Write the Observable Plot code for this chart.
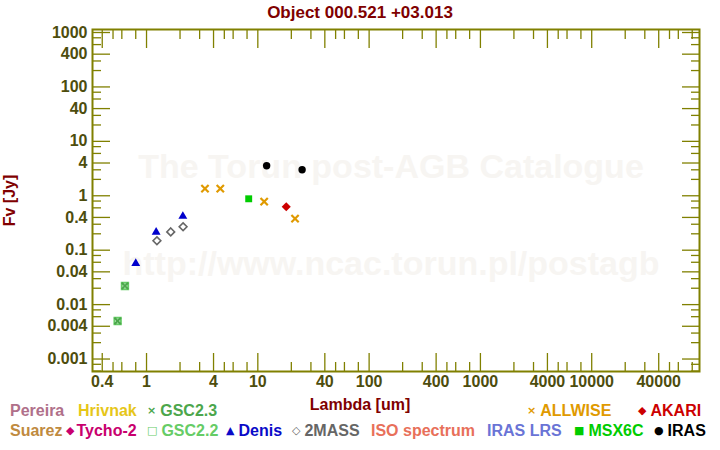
<!DOCTYPE html>
<html><head><meta charset="utf-8">
<script src="https://cdn.jsdelivr.net/npm/d3@7"></script>
<script src="https://cdn.jsdelivr.net/npm/@observablehq/plot@0.6"></script>
<style>
body{margin:0;background:#fff;font-family:"Liberation Sans",Arial,sans-serif;}
#chart{position:relative;width:720px;height:450px;overflow:hidden;background:#fff}
#title{height:22px;width:720px;text-align:center;font-weight:bold;font-size:17px;color:#800000;line-height:26px;white-space:nowrap}
#plot{height:372px}
#legend{position:relative;width:720px;height:56px;font-weight:bold;font-size:16px;}
#legend span.item{position:absolute;white-space:nowrap;line-height:16px;height:16px}
#legend span.sym{font-family:"DejaVu Sans",sans-serif;font-size:11px;font-weight:bold;display:inline-block;vertical-align:top;line-height:16px}
</style></head><body>
<div id="chart">
<div id="title">Object 000.521 +03.013</div>
<div id="plot"></div>
<div id="legend"></div>
</div>
<script>
// ---- data ----
const xTickLabels = [0.4, 1, 4, 10, 40, 100, 400, 1000, 4000, 10000, 40000];
const yTickLabels = [0.001, 0.004, 0.01, 0.04, 0.1, 0.4, 1, 4, 10, 40, 100, 400, 1000];

const gsc23Lambda = [0.55, 0.64];
const gsc23Flux   = [0.0050, 0.022];
const gsc22Lambda = [0.55, 0.64];
const gsc22Flux   = [0.0050, 0.022];
const denisLambda = [0.80, 1.22, 2.12];
const denisFlux   = [0.057, 0.214, 0.42];
const tmassLambda = [1.24, 1.65, 2.13];
const tmassFlux   = [0.149, 0.217, 0.269];
const allwiseLambda = [3.35, 4.6, 11.4, 21.6];
const allwiseFlux   = [1.35, 1.35, 0.78, 0.38];
const msxLambda = [8.28];
const msxFlux   = [0.88];
const akariLambda = [18];
const akariFlux   = [0.63];
const irasLambda = [12, 25];
const irasFlux   = [3.57, 3.0];

const legendRow1 = ["Pereira", "Hrivnak", "GSC2.3", "ALLWISE", "AKARI"];
const legendRow2 = ["Suarez", "Tycho-2", "GSC2.2", "Denis", "2MASS", "ISO spectrum", "IRAS LRS", "MSX6C", "IRAS"];

const titleText = "Object 000.521 +03.013";
const xLabel = "Lambda [um]";
const yLabel = "Fv [Jy]";
const watermark1 = "The Torun post-AGB Catalogue";
const watermark2 = "http://www.ncac.torun.pl/postagb";

// ---- styling ----
const olive = "#808000";
const tickText = "#4d4d0d";
const font = '"Liberation Sans", Arial, sans-serif';
const xDomain = [0.327, 93000];
const yDomain = [0.00059, 1136];
const xDecades = [0.1, 1, 10, 100, 1000, 10000];
const yDecades = [0.0001, 0.001, 0.01, 0.1, 1, 10, 100, 1000];
const xMinor = xDecades.flatMap(d => [2, 3, 5, 6, 8].map(m => +(m * d).toPrecision(6))).filter(v => v > xDomain[0] && v < xDomain[1]);
const yMinor = yDecades.flatMap(d => [2, 3, 6, 8].map(m => +(m * d).toPrecision(6))).filter(v => v > yDomain[0] && v < yDomain[1]);
const fmt = d3.format("~g");

const tickOpts = {stroke: olive, strokeWidth: 1.3, fill: "none", label: null};

const plot = Plot.plot({
  width: 720, height: 372,
  marginLeft: 92, marginRight: 21, marginTop: 7, marginBottom: 23,
  style: {fontFamily: font, fontSize: "16px", fontWeight: "bold", background: "white", overflow: "visible"},
  x: {type: "log", domain: xDomain},
  y: {type: "log", domain: yDomain},
  marks: [
    Plot.text([watermark1], {text: d => d, frameAnchor: "top", lineAnchor: "bottom", dy: 148, dx: -5, fill: "#f7f5f2", fontSize: 34, fontWeight: "bold"}),
    Plot.text([watermark2], {text: d => d, frameAnchor: "top", lineAnchor: "bottom", dy: 245, dx: -5, fill: "#f7f5f2", fontSize: 34, fontWeight: "bold"}),
    Plot.axisX(xMinor, {anchor: "bottom", tickSize: -9, ...tickOpts}),
    Plot.axisX(xMinor, {anchor: "top", tickSize: -9, ...tickOpts}),
    Plot.axisX(xTickLabels, {anchor: "top", tickSize: -18, ...tickOpts}),
    Plot.axisX(xTickLabels, {anchor: "bottom", tickSize: -18, tickPadding: 22, text: d => fmt(d), stroke: olive, strokeWidth: 1.3, fill: tickText, fontSize: 16, fontWeight: "bold", label: null}),
    Plot.axisY(yMinor, {anchor: "left", tickSize: -9, ...tickOpts}),
    Plot.axisY(yMinor, {anchor: "right", tickSize: -9, ...tickOpts}),
    Plot.axisY(yTickLabels, {anchor: "right", tickSize: -18, ...tickOpts}),
    Plot.axisY(yTickLabels, {anchor: "left", tickSize: -18, tickPadding: 23, text: d => fmt(d), stroke: olive, strokeWidth: 1.3, fill: tickText, fontSize: 16, fontWeight: "bold", label: null}),
    Plot.axisY([], {anchor: "left", tickSize: 0, label: yLabel, labelAnchor: "center", labelArrow: "none", fill: "#800000", fontSize: 16, fontWeight: "bold"}),
    Plot.frame({stroke: olive, strokeWidth: 2}),
    Plot.dot(gsc22Flux, {x: gsc22Lambda, y: gsc22Flux, symbol: "square", r: 3.6, stroke: "#66cc66", strokeWidth: 2, fill: "none"}),
    Plot.dot(gsc23Flux, {x: gsc23Lambda, y: gsc23Flux, symbol: "times", r: 3.0, stroke: "#4ca64c", strokeWidth: 2}),
    Plot.dot(denisFlux, {x: denisLambda, y: denisFlux, symbol: "triangle", r: 3.3, fill: "#0000cc", stroke: "none"}),
    Plot.dot(tmassFlux, {x: tmassLambda, y: tmassFlux, symbol: "diamond2", r: 3.5, stroke: "#666666", strokeWidth: 1.6, fill: "none"}),
    Plot.dot(allwiseFlux, {x: allwiseLambda, y: allwiseFlux, symbol: "times", r: 3.4, stroke: "#e09a00", strokeWidth: 2.2}),
    Plot.dot(msxFlux, {x: msxLambda, y: msxFlux, symbol: "square", r: 3.9, fill: "#00cc00", stroke: "none"}),
    Plot.dot(akariFlux, {x: akariLambda, y: akariFlux, symbol: "diamond2", r: 4.1, fill: "#cc0000", stroke: "none"}),
    Plot.dot(irasFlux, {x: irasLambda, y: irasFlux, symbol: "circle", r: 3.7, fill: "#000000", stroke: "none"})
  ]
});
document.getElementById("plot").appendChild(plot);
document.getElementById("title").textContent = titleText;

// ---- legend (HTML text) ----
const legend = document.getElementById("legend");
const xl = document.createElement("span");
xl.className = "item"; xl.textContent = xLabel;
xl.style.cssText = "left:0;width:720px;text-align:center;top:3px;color:#800000";
legend.appendChild(xl);

const legendLayout = [
  {row: 0, i: 0, left: 10, color: "#b0708a", sym: ""},
  {row: 0, i: 1, left: 78, color: "#e6c619", sym: ""},
  {row: 0, i: 2, left: 147, color: "#4ca64c", sym: "\u00d7"},
  {row: 0, i: 3, left: 527, color: "#e09a00", sym: "\u00d7"},
  {row: 0, i: 4, left: 638, color: "#cc0000", sym: "\u25c6"},
  {row: 1, i: 0, left: 10, color: "#c08a40", sym: ""},
  {row: 1, i: 1, left: 66, color: "#c8006e", sym: "\u25c6"},
  {row: 1, i: 2, left: 147, color: "#66cc66", sym: "\u25a1"},
  {row: 1, i: 3, left: 226, color: "#0a0ac8", sym: "\u25b2"},
  {row: 1, i: 4, left: 292, color: "#666666", sym: "\u25c7"},
  {row: 1, i: 5, left: 371, color: "#e8705a", sym: ""},
  {row: 1, i: 6, left: 487, color: "#6a74d6", sym: ""},
  {row: 1, i: 7, left: 574, color: "#00cc00", sym: "\u25a0"},
  {row: 1, i: 8, left: 654, color: "#000000", sym: "\u25cf"}
];
for (const L of legendLayout) {
  const label = (L.row === 0 ? legendRow1 : legendRow2)[L.i];
  const s = document.createElement("span");
  s.className = "item";
  s.style.left = L.left + "px";
  s.style.top = (L.row === 0 ? 9 : 29) + "px";
  s.style.color = L.color;
  if (L.sym) {
    const g = document.createElement("span");
    g.className = "sym";
    g.textContent = L.sym;
    g.style.marginRight = (L.sym === "\u25c6" && L.i === 1 ? "2px" : "4px");
    s.appendChild(g);
  }
  s.appendChild(document.createTextNode(label));
  legend.appendChild(s);
}
</script>
</body></html>
